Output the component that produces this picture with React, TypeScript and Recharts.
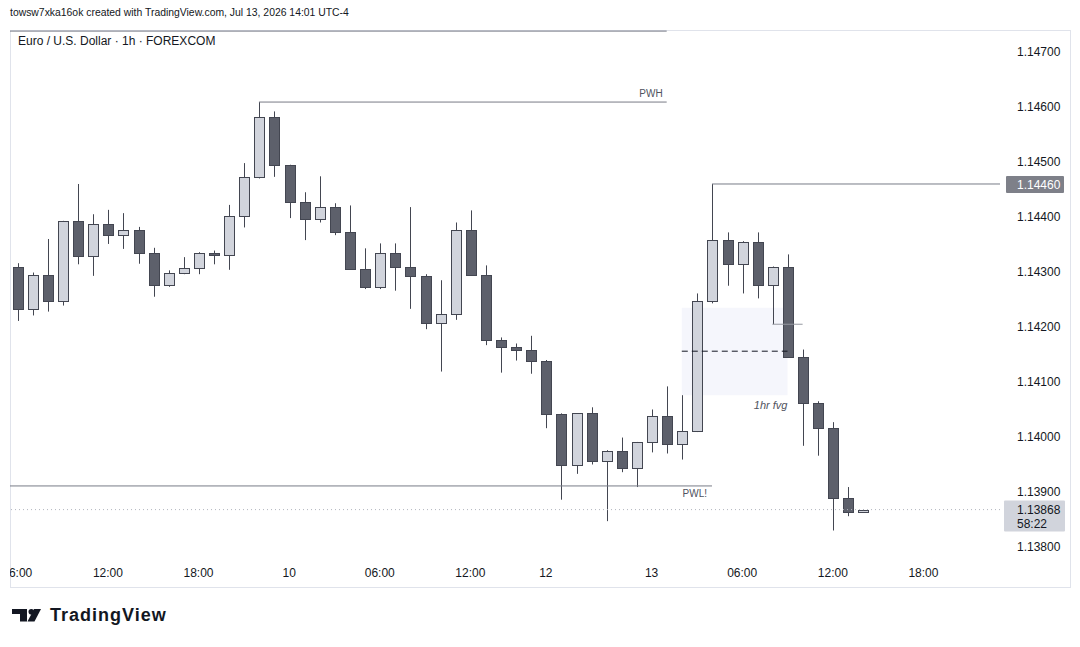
import React from 'react'
import { ComposedChart, Bar, XAxis, YAxis, ReferenceLine, ReferenceArea } from 'recharts'

// EUR/USD 1h candles, Jul 9 06:00 -> Jul 13 14:00 (weekend gap removed)
const OPEN = [
    1.14309, 1.14232, 1.14294, 1.14247, 1.14392, 1.14329, 1.14387, 1.14367, 1.14376, 1.14334,
    1.14276, 1.14299, 1.14307, 1.14334, 1.1433, 1.14401, 1.14472, 1.14581, 1.14494, 1.14427,
    1.14396, 1.14419, 1.14372, 1.14305, 1.14272, 1.14334, 1.14309, 1.14292, 1.14207, 1.14223,
    1.14376, 1.14294, 1.14176, 1.14163, 1.14158, 1.14139, 1.14041, 1.13949, 1.14043, 1.13956,
    1.13974, 1.13943, 1.1399, 1.14039, 1.13987, 1.1401, 1.14247, 1.14359, 1.14314, 1.14354,
    1.14276, 1.14309, 1.14145, 1.14061, 1.14016, 1.13889, 1.13863,
]
const HIGH = [
    1.14316, 1.14299, 1.1436, 1.14393, 1.1446, 1.14405, 1.14413, 1.14407, 1.14382, 1.14344,
    1.14303, 1.14327, 1.14336, 1.14339, 1.14422, 1.14498, 1.14609, 1.14592, 1.14495, 1.14445,
    1.14474, 1.14425, 1.14421, 1.14343, 1.14352, 1.14352, 1.14418, 1.14296, 1.14285, 1.1439,
    1.14412, 1.14312, 1.14181, 1.1417, 1.14184, 1.1414, 1.14043, 1.14043, 1.14054, 1.13976,
    1.13999, 1.13991, 1.1405, 1.14092, 1.14076, 1.14261, 1.1446, 1.14372, 1.14356, 1.14372,
    1.1431, 1.14332, 1.14159, 1.14065, 1.14027, 1.13909, 1.13868,
]
const LOW = [
    1.14211, 1.14221, 1.14228, 1.14239, 1.14314, 1.14293, 1.14351, 1.14342, 1.14315, 1.14255,
    1.14273, 1.14296, 1.14296, 1.14314, 1.14304, 1.14381, 1.1447, 1.14473, 1.14398, 1.14358,
    1.1439, 1.14367, 1.14304, 1.14269, 1.14269, 1.14266, 1.14233, 1.14196, 1.14119, 1.14213,
    1.14293, 1.14167, 1.14117, 1.14139, 1.14115, 1.14016, 1.13886, 1.13933, 1.1395, 1.13847,
    1.13936, 1.13909, 1.13972, 1.1397, 1.13959, 1.14009, 1.14243, 1.14275, 1.14261, 1.14252,
    1.14205, 1.14144, 1.13984, 1.13966, 1.1383, 1.13856, 1.13862,
]
const CLOSE = [
    1.14232, 1.14294, 1.14247, 1.14392, 1.14329, 1.14387, 1.14367, 1.14376, 1.14334, 1.14276,
    1.14299, 1.14307, 1.14334, 1.1433, 1.14401, 1.14472, 1.14581, 1.14494, 1.14427, 1.14396,
    1.14419, 1.14372, 1.14305, 1.14272, 1.14334, 1.14309, 1.14292, 1.14207, 1.14223, 1.14376,
    1.14294, 1.14176, 1.14163, 1.14158, 1.14139, 1.14041, 1.13949, 1.14043, 1.13956, 1.13974,
    1.13943, 1.1399, 1.14039, 1.13987, 1.1401, 1.14247, 1.14359, 1.14314, 1.14354, 1.14276,
    1.14309, 1.14145, 1.14061, 1.14016, 1.13889, 1.13863, 1.13868,
]

const TIME_TICKS = [0, 6, 12, 18, 24, 30, 35, 42, 48, 54, 60]
const TIME_LABELS = ['06:00', '12:00', '18:00', '10', '06:00', '12:00', '12', '13', '06:00', '12:00', '18:00']
const PRICE_TICKS = [1.138, 1.139, 1.14, 1.141, 1.142, 1.143, 1.144, 1.145, 1.146, 1.147]

// drawn levels
const TOP_LEVEL = 1.14738
const PWH = 1.14609
const PWL = 1.13911
const SWING_HIGH = 1.1446
const SMALL_LEVEL = 1.14205
const FVG_TOP = 1.14235
const FVG_BOTTOM = 1.14076
const FVG_MID = 1.14156
const LAST_PRICE = 1.13868

const X_DOMAIN = [-0.483, 65.07]
const Y_DOMAIN = [1.1377636, 1.1474]

const FONT = "'Liberation Sans', Arial, sans-serif"
const WICK = '#434651'
const UP = '#d1d4dc'
const DOWN = '#5d606b'
const DRAW = '#787b86'

const candles = OPEN.map((o, i) => ({ i, o, h: HIGH[i], l: LOW[i], c: CLOSE[i], range: [LOW[i], HIGH[i]] }))

const Candle = (props: any) => {
    const { x, y, width, height, payload } = props
    const top = Math.min(y, y + height)
    const bot = Math.max(y, y + height)
    const { o, h, l, c } = payload
    const k = h === l ? 0 : (bot - top) / (h - l)
    const py = (p: number) => top + (h - p) * k
    const cx = Math.round(x + width / 2) + 0.5
    const bt = Math.round(py(Math.max(o, c))) + 0.5
    const bb = Math.round(py(Math.min(o, c))) + 0.5
    return (
        <g>
            <line x1={cx} x2={cx} y1={top} y2={bot} stroke={WICK} strokeWidth={1} />
            <rect x={cx - 5} y={bt} width={10} height={Math.max(bb - bt, 1)} fill={c >= o ? UP : DOWN} stroke={WICK} strokeWidth={1} />
        </g>
    )
}

const TimeTick = (props: any) => {
    const { x, payload } = props
    const idx = TIME_TICKS.indexOf(payload.value)
    return (
        <g>
            <defs>
                <clipPath id={`tclip${idx}`}>
                    <rect x={10} y={560} width={990} height={27} />
                </clipPath>
            </defs>
            <text x={x} y={577} textAnchor="middle" fontSize={12} fontFamily={FONT} fill="#131722" clipPath={`url(#tclip${idx})`}>
                {TIME_LABELS[idx]}
            </text>
        </g>
    )
}

const PriceTick = (props: any) => {
    const { y, payload } = props
    return (
        <text x={1017} y={y + 4} fontSize={12} fontFamily={FONT} fill="#131722">
            {payload.value.toFixed(5)}
        </text>
    )
}

const textLabel = (txt: string, dx: number, dy: number, size = 10, italic = false, below = false) => (p: any) => {
    const vb = p.viewBox
    return (
        <text x={vb.x + vb.width + dx} y={(below ? vb.y + vb.height : vb.y) + dy} textAnchor="end" fontSize={size} fontStyle={italic ? 'italic' : 'normal'} fontFamily={FONT} fill="#50535e">
            {txt}
        </text>
    )
}

const swingBox = (p: any) => {
    const vb = p.viewBox
    const x = vb.x + vb.width + 6
    return (
        <g>
            <rect x={x} y={vb.y - 8} width={58} height={17} fill="#7e8089" rx={1} />
            <text x={x + 11} y={vb.y + 5} fontSize={12} fontFamily={FONT} fill="#ffffff">{SWING_HIGH.toFixed(5)}</text>
        </g>
    )
}

const lastBox = (p: any) => {
    const vb = p.viewBox
    const x = vb.x + vb.width + 4
    return (
        <g>
            <rect x={x} y={vb.y - 9} width={61} height={31} fill="#d1d4dc" rx={1} />
            <text x={x + 13} y={vb.y + 4} fontSize={12} fontFamily={FONT} fill="#131722">{LAST_PRICE.toFixed(5)}</text>
            <text x={x + 13} y={vb.y + 18} fontSize={12} fontFamily={FONT} fill="#131722">58:22</text>
        </g>
    )
}

const Logo = () => (
    <svg width={30} height={13} viewBox="0 0 30 13" style={{ position: 'absolute', left: 12, top: 609 }}>
        <path d="M0 0 H15 V12.5 H8 V5 H0 Z" fill="#131722" />
        <circle cx={19.3} cy={2.8} r={2.8} fill="#131722" />
        <path d="M22 0 H29 L22.5 12.5 H15.5 Z" fill="#131722" />
    </svg>
)

export default function App() {
    return (
        <div style={{ position: 'absolute', left: 0, top: 0, width: 1080, height: 647, background: '#fff', fontFamily: FONT }}>
            <div style={{ position: 'absolute', left: 10, top: 7, fontSize: 10.4, color: '#131722', whiteSpace: 'nowrap' }}>
                towsw7xka16ok created with TradingView.com, Jul 13, 2026 14:01 UTC-4
            </div>
            <div style={{ position: 'absolute', left: 10, top: 30, width: 1059, height: 556, border: '1px solid #e0e3eb' }} />
            <ComposedChart width={1080} height={647} data={candles} margin={{ top: 30, right: 10, bottom: 60, left: 10 }} style={{ position: 'absolute', left: 0, top: 0 }}>
                <XAxis dataKey="i" type="number" domain={X_DOMAIN} allowDataOverflow ticks={TIME_TICKS} tick={<TimeTick />} tickLine={false} axisLine={false} height={27} interval={0} />
                <YAxis orientation="right" type="number" domain={Y_DOMAIN} allowDataOverflow ticks={PRICE_TICKS} tick={<PriceTick />} tickLine={false} axisLine={false} width={70} interval={0} />
                <ReferenceArea x1={44} x2={51} y1={FVG_BOTTOM} y2={FVG_TOP} fill="#f5f6fc" fillOpacity={1} stroke="none" label={textLabel('1hr fvg', 0, 14, 11, true, true)} />
                <ReferenceLine segment={[{ x: 44, y: FVG_MID }, { x: 51, y: FVG_MID }]} stroke="#131722" strokeDasharray="6 4" />
                <ReferenceLine segment={[{ x: X_DOMAIN[0], y: TOP_LEVEL }, { x: 43, y: TOP_LEVEL }]} stroke={DRAW} />
                <ReferenceLine segment={[{ x: 16, y: PWH }, { x: 43, y: PWH }]} stroke={DRAW} label={textLabel('PWH', -4, -5)} />
                <ReferenceLine segment={[{ x: X_DOMAIN[0], y: PWL }, { x: 46, y: PWL }]} stroke={DRAW} label={textLabel('PWL!', -5, 11)} />
                <ReferenceLine segment={[{ x: 50, y: SMALL_LEVEL }, { x: 52, y: SMALL_LEVEL }]} stroke="#9598a1" />
                <ReferenceLine y={LAST_PRICE} stroke="#b2b5be" strokeDasharray="1 3" label={lastBox} />
                <Bar dataKey="range" barSize={10} shape={<Candle />} isAnimationActive={false} />
                <ReferenceLine segment={[{ x: 46, y: SWING_HIGH }, { x: X_DOMAIN[1], y: SWING_HIGH }]} stroke={DRAW} label={swingBox} />
            </ComposedChart>
            <div style={{ position: 'absolute', left: 18, top: 34, fontSize: 12, color: '#131722', whiteSpace: 'nowrap' }}>
                Euro / U.S. Dollar · 1h · FOREXCOM
            </div>
            <Logo />
            <div style={{ position: 'absolute', left: 50, top: 605, fontSize: 18, fontWeight: 700, color: '#131722', letterSpacing: 1 }}>
                TradingView
            </div>
        </div>
    )
}
